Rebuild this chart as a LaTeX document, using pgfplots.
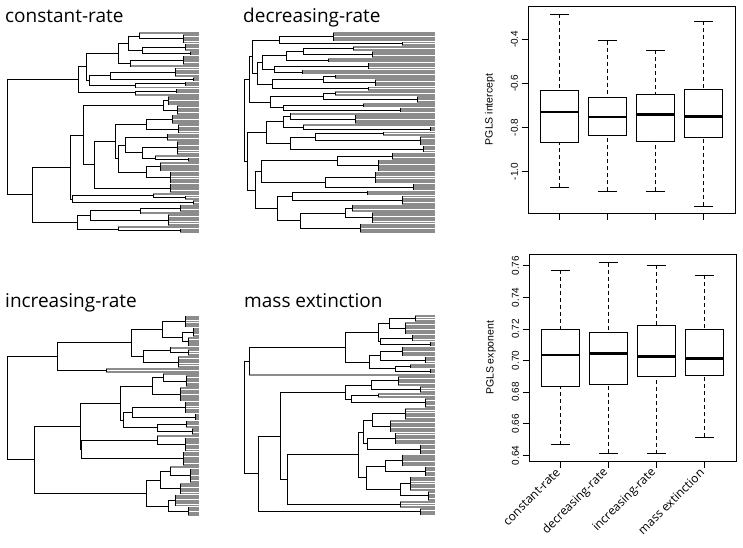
\documentclass[border=0pt]{standalone}
\usepackage{fontspec}
\setmainfont{Liberation Sans}
\newfontfamily\titlefont{Open Sans}
\usepackage{pgfplots}
\pgfplotsset{compat=1.18}
\usepackage{pgfplotstable}
\usepgfplotslibrary{statistics}

% trees: nodes (x y px lo hi) and tips (i x0); x in image px, y in tip index
\pgfplotstableread[row sep=\\]{
x y px lo hi\\
183 3.5 139 2 5\\ 139 2.25 128 1 3.5\\ 185 7 142 6 8\\ 190 9.5 142 9 10\\
142 8.25 128 7 9.5\\ 128 5.25 118 2.25 8.25\\ 183 12.5 130 11 14\\ 130 13.75 118 12.5 15\\
118 9.5 86 5.25 13.75\\ 175 17.5 110 16 19\\ 193 20.5 110 20 21\\ 110 19 89 17.5 20.5\\
185 22.5 135 22 23\\ 135 23.25 89 22.5 24\\ 89 21.125 86 19 23.25\\ 86 15.3125 78 9.5 21.125\\
176 25.5 135 25 26\\ 135 26.25 78 25.5 27\\ 78 20.78 7 15.3125 26.25\\
168 29.5 163 28 31\\ 177 33.5 163 32 35\\ 163 31.5 83 29.5 33.5\\
172 37.5 146 36 39\\ 178 41.5 146 40 43\\ 146 39.5 115 37.5 41.5\\
167 45 125 44 46\\ 177 49.5 142 47 52\\ 188 54.5 155 54 55\\ 155 53.75 142 53 54.5\\
142 51.625 125 49.5 53.75\\ 125 48.3125 118 45 51.625\\ 160 57.5 146 56 59\\ 170 62 146 60 64\\
146 59.75 118 57.5 62\\ 118 54.03 115 48.3125 59.75\\ 115 46.77 94 39.5 54.03\\
170 66.5 94 65 68\\ 94 56.63 83 46.77 66.5\\ 83 44.07 70 31.5 56.63\\
185 70.5 153 70 71\\ 153 69.75 72 69 70.5\\ 193 72.5 72 72 73\\ 72 71.125 70 69.75 72.5\\
70 57.6 32 44.07 71.125\\ 180 75 140 74 76\\ 140 76 90 75 77\\ 168 80 90 78 82\\
90 78 77 76 80\\ 180 84.5 118 84 85\\ 118 83.75 77 83 84.5\\ 77 80.875 32 78 83.75\\
32 69.24 7 57.6 80.875\\ 7 45 7 20.78 69.24\\
}\nodesA
\pgfplotstableread[row sep=\\]{
i x0\\
1 139\\ 2 183\\ 3 183\\ 4 183\\ 5 183\\ 6 185\\ 7 185\\ 8 185\\ 9 190\\ 10 190\\
11 183\\ 12 183\\ 13 183\\ 14 183\\ 15 130\\ 16 175\\ 17 175\\ 18 175\\ 19 175\\ 20 193\\
21 193\\ 22 185\\ 23 185\\ 24 135\\ 25 176\\ 26 176\\ 27 135\\ 28 168\\ 29 168\\ 30 168\\
31 168\\ 32 177\\ 33 177\\ 34 177\\ 35 177\\ 36 172\\ 37 172\\ 38 172\\ 39 172\\ 40 178\\
41 178\\ 42 178\\ 43 178\\ 44 167\\ 45 167\\ 46 167\\ 47 177\\ 48 177\\ 49 177\\ 50 177\\
51 177\\ 52 177\\ 53 155\\ 54 188\\ 55 188\\ 56 160\\ 57 160\\ 58 160\\ 59 160\\ 60 170\\
61 170\\ 62 170\\ 63 170\\ 64 170\\ 65 170\\ 66 170\\ 67 170\\ 68 170\\ 69 153\\ 70 185\\
71 185\\ 72 193\\ 73 193\\ 74 180\\ 75 180\\ 76 180\\ 77 140\\ 78 168\\ 79 168\\ 80 168\\
81 168\\ 82 168\\ 83 118\\ 84 180\\ 85 180\\
}\tipsA

\pgfplotstableread[row sep=\\]{
x y px lo hi\\
333 2.5 279 1 4\\ 402 5.5 279 5 6\\ 279 4 252 2.5 5.5\\ 353 7.5 303 7 8\\ 372 10 303 9 11\\
303 8.75 286 7.5 10\\ 328 12.5 286 12 13\\ 286 10.625 262 8.75 12.5\\ 368 15 274 14 16\\
302 17.5 274 17 18\\ 274 16.25 262 15 17.5\\ 262 13.4375 257 10.625 16.25\\
335 19.5 323 19 20\\ 375 22 323 21 23\\ 323 20.75 272 19.5 22\\ 368 24.5 272 24 25\\
272 22.625 257 20.75 24.5\\ 257 18.03 252 13.4375 22.625\\ 252 11.016 249 4 18.03\\
335 26.5 323 26 27\\ 417 29 323 28 30\\ 323 27.75 270 26.5 29\\ 363 31.5 283 31 32\\
400 33.5 283 33 34\\ 283 32.5 270 31.5 33.5\\ 270 30.125 249 27.75 32.5\\
249 20.57 244 11.016 30.125\\ 355 37.5 290 36 39\\ 290 36.25 283 35 37.5\\
430 41.5 303 41 42\\ 303 40.75 283 40 41.5\\ 283 38.5 266 36.25 40.75\\
383 43.5 315 43 44\\ 420 46.5 315 45 48\\ 315 45 290 43.5 46.5\\ 423 50 290 49 51\\
290 47.5 266 45 50\\ 266 43 247 38.5 47.5\\ 392 53 337 52 54\\ 378 57 337 55 59\\
337 55 261 53 57\\ 375 62 325 60 64\\ 413 66 325 65 67\\ 325 64 261 62 66\\
261 59.5 255 55 64\\ 367 68.5 292 68 69\\ 402 71.5 292 70 73\\ 292 70 277 68.5 71.5\\
352 75 345 74 76\\ 372 79 345 77 81\\ 345 77 300 75 79\\ 360 83.5 300 82 85\\
300 80.25 277 77 83.5\\ 277 75.125 255 70 80.25\\ 255 67.31 247 59.5 75.125\\
247 55.16 244 43 67.31\\ 244 37.87 244 20.57 55.16\\
}\nodesB
\pgfplotstableread[row sep=\\]{
i x0\\
1 333\\ 2 333\\ 3 333\\ 4 333\\ 5 402\\ 6 402\\ 7 353\\ 8 353\\ 9 372\\ 10 372\\
11 372\\ 12 328\\ 13 328\\ 14 368\\ 15 368\\ 16 368\\ 17 302\\ 18 302\\ 19 335\\ 20 335\\
21 375\\ 22 375\\ 23 375\\ 24 368\\ 25 368\\ 26 335\\ 27 335\\ 28 417\\ 29 417\\ 30 417\\
31 363\\ 32 363\\ 33 400\\ 34 400\\ 35 290\\ 36 355\\ 37 355\\ 38 355\\ 39 355\\ 40 303\\
41 430\\ 42 430\\ 43 383\\ 44 383\\ 45 420\\ 46 420\\ 47 420\\ 48 420\\ 49 423\\ 50 423\\
51 423\\ 52 392\\ 53 392\\ 54 392\\ 55 378\\ 56 378\\ 57 378\\ 58 378\\ 59 378\\ 60 375\\
61 375\\ 62 375\\ 63 375\\ 64 375\\ 65 413\\ 66 413\\ 67 413\\ 68 367\\ 69 367\\ 70 402\\
71 402\\ 72 402\\ 73 402\\ 74 352\\ 75 352\\ 76 352\\ 77 372\\ 78 372\\ 79 372\\ 80 372\\
81 372\\ 82 360\\ 83 360\\ 84 360\\ 85 360\\
}\tipsB

\pgfplotstableread[row sep=\\]{
x y px lo hi\\
185 3 162 1 5\\ 193 7.5 182 6 9\\ 188 11.5 182 10 13\\ 182 9.5 162 7.5 11.5\\
162 6.25 131 3 9.5\\ 188 16 170 15 17\\ 170 15 143 14 16\\ 178 20 143 18 22\\
143 17.5 131 15 20\\ 131 11.875 57 6.25 17.5\\ 106 23.5 57 23 24\\ 57 17.6875 7 11.875 23.5\\
186 28 163 26 30\\ 163 26.5 152 25 28\\ 180 33.5 152 31 36\\ 152 30 120 26.5 33.5\\
185 39 132 37 41\\ 195 43 132 42 44\\ 132 41 123 39 43\\ 186 46 157 45 47\\
192 49 157 48 50\\ 157 47.5 123 46 49\\ 123 44.25 120 41 47.5\\ 120 37.125 80 30 44.25\\
185 54.5 157 52 57\\ 157 52.75 81 51 54.5\\ 183 60.5 81 58 63\\ 81 56.625 80 52.75 60.5\\
80 46.875 34 37.125 56.625\\ 190 67.5 170 65 70\\ 170 65.75 160 64 67.5\\ 180 73 160 71 75\\
160 69.375 146 65.75 73\\ 175 78 168 76 80\\ 188 82.5 168 81 84\\ 168 80.25 146 78 82.5\\
146 74.81 34 69.375 80.25\\ 34 60.84 7 46.875 74.81\\ 7 39.26 7 17.6875 60.84\\
}\nodesC
\pgfplotstableread[row sep=\\]{
i x0\\
1 185\\ 2 185\\ 3 185\\ 4 185\\ 5 185\\ 6 193\\ 7 193\\ 8 193\\ 9 193\\ 10 188\\
11 188\\ 12 188\\ 13 188\\ 14 170\\ 15 188\\ 16 188\\ 17 188\\ 18 178\\ 19 178\\ 20 178\\
21 178\\ 22 178\\ 23 106\\ 24 106\\ 25 163\\ 26 186\\ 27 186\\ 28 186\\ 29 186\\ 30 186\\
31 180\\ 32 180\\ 33 180\\ 34 180\\ 35 180\\ 36 180\\ 37 185\\ 38 185\\ 39 185\\ 40 185\\
41 185\\ 42 195\\ 43 195\\ 44 195\\ 45 186\\ 46 186\\ 47 186\\ 48 192\\ 49 192\\ 50 192\\
51 157\\ 52 185\\ 53 185\\ 54 185\\ 55 185\\ 56 185\\ 57 185\\ 58 183\\ 59 183\\ 60 183\\
61 183\\ 62 183\\ 63 183\\ 64 170\\ 65 190\\ 66 190\\ 67 190\\ 68 190\\ 69 190\\ 70 190\\
71 180\\ 72 180\\ 73 180\\ 74 180\\ 75 180\\ 76 175\\ 77 175\\ 78 175\\ 79 175\\ 80 175\\
81 188\\ 82 188\\ 83 188\\ 84 188\\
}\tipsC

\pgfplotstableread[row sep=\\]{
x y px lo hi\\
415 2 389 1 3\\ 405 6 389 4 8\\ 389 4 378 2 6\\ 412 10 380 9 11\\ 430 12.5 380 12 13\\
380 11.25 378 10 12.5\\ 378 7.625 345 4 11.25\\ 402 15.5 380 14 17\\ 425 19 380 18 20\\
380 17.25 369 15.5 19\\ 410 21.5 395 21 22\\ 430 23.5 395 23 24\\ 395 22.5 369 21.5 23.5\\
369 19.875 345 17.25 22.5\\ 345 13.75 249 7.625 19.875\\ 249 19.375 244 13.75 25\\
398 27.5 371 26 29\\ 420 31 371 30 32\\ 371 29.25 345 27.5 31\\ 378 33.5 351 33 34\\
425 36.5 351 35 38\\ 351 35 345 33.5 36.5\\ 345 32.125 280 29.25 35\\
405 41 372 39 43\\ 390 46 372 44 48\\ 372 43.5 363 41 46\\ 395 51 367 49 53\\
420 55.5 367 54 57\\ 367 53.25 363 51 55.5\\ 363 48.375 358 43.5 53.25\\
402 60 385 58 62\\ 425 64.5 385 63 66\\ 385 62.25 366 60 64.5\\ 410 69.5 400 67 72\\
428 74.5 400 73 76\\ 400 72 366 69.5 74.5\\ 366 67.125 358 62.25 72\\
358 57.75 287 48.375 67.125\\ 400 78 287 77 79\\ 287 67.875 280 57.75 78\\
280 50 258 32.125 67.875\\ 420 81 258 80 82\\ 258 65.5 244 50 81\\ 244 42.44 244 19.375 65.5\\
}\nodesD
\pgfplotstableread[row sep=\\]{
i x0\\
1 415\\ 2 415\\ 3 415\\ 4 405\\ 5 405\\ 6 405\\ 7 405\\ 8 405\\ 9 412\\ 10 412\\
11 412\\ 12 430\\ 13 430\\ 14 402\\ 15 402\\ 16 402\\ 17 402\\ 18 425\\ 19 425\\ 20 425\\
21 410\\ 22 410\\ 23 430\\ 24 430\\ 25 249\\ 26 398\\ 27 398\\ 28 398\\ 29 398\\ 30 420\\
31 420\\ 32 420\\ 33 378\\ 34 378\\ 35 425\\ 36 425\\ 37 425\\ 38 425\\ 39 405\\ 40 405\\
41 405\\ 42 405\\ 43 405\\ 44 390\\ 45 390\\ 46 390\\ 47 390\\ 48 390\\ 49 395\\ 50 395\\
51 395\\ 52 395\\ 53 395\\ 54 420\\ 55 420\\ 56 420\\ 57 420\\ 58 402\\ 59 402\\ 60 402\\
61 402\\ 62 402\\ 63 425\\ 64 425\\ 65 425\\ 66 425\\ 67 410\\ 68 410\\ 69 410\\ 70 410\\
71 410\\ 72 410\\ 73 428\\ 74 428\\ 75 428\\ 76 428\\ 77 400\\ 78 400\\ 79 400\\ 80 420\\
81 420\\ 82 420\\
}\tipsD

\pgfplotsset{
  treeax/.style={scale only axis, hide axis, clip=false, anchor=south west,
    width=743pt, xmin=0, xmax=743, y dir=reverse, ymin=1},
  branch/.style={black, line width=0.9pt, line cap=rect},
  tipline/.style={black!45, line width=1.9pt, line cap=butt},
  boxax/.style={scale only axis, anchor=south west, width=207pt,
    xmin=0.34, xmax=4.66, xtick={1,2,3,4}, tick pos=left, tick align=outside,
    major tick length=6.5pt, axis line style={line width=0.8pt},
    tick style={black, line width=0.8pt},
    yticklabel style={rotate=90, anchor=south, font=\fontsize{10}{12}\selectfont},
    every axis y label/.style={at={(axis description cs:0,0.5)}, xshift=-38pt,
      rotate=90, anchor=center, font=\fontsize{10.5}{12}\selectfont},
    boxplot/draw direction=y, boxplot/box extend=0.8, boxplot/whisker extend=0.4,
    boxplot/every box/.style={fill=white},
    boxplot/every median/.style={line width=2.6pt},
    boxplot/draw/lower whisker/.code={%
      \draw[dash pattern=on 4pt off 3pt]
        (boxplot box cs:\pgfplotsboxplotvalue{lower whisker},0.5) --
        (boxplot box cs:\pgfplotsboxplotvalue{lower quartile},0.5);
      \draw (boxplot whisker cs:\pgfplotsboxplotvalue{lower whisker},0) --
        (boxplot whisker cs:\pgfplotsboxplotvalue{lower whisker},1);},
    boxplot/draw/upper whisker/.code={%
      \draw[dash pattern=on 4pt off 3pt]
        (boxplot box cs:\pgfplotsboxplotvalue{upper whisker},0.5) --
        (boxplot box cs:\pgfplotsboxplotvalue{upper quartile},0.5);
      \draw (boxplot whisker cs:\pgfplotsboxplotvalue{upper whisker},0) --
        (boxplot whisker cs:\pgfplotsboxplotvalue{upper whisker},1);},
  },
  bx/.style={black, line width=0.8pt},
}

% tips first (grey), then horizontal and vertical internal branches (black)
\newcommand{\drawtree}[3]{%
  \addplot[tipline, quiver={u=#3-\thisrow{x0}, v=0}] table[x=x0, y=i] {#2};
  \addplot[branch, quiver={u=\thisrow{x}-\thisrow{px}, v=0}] table[x=px, y=y] {#1};
  \addplot[branch, quiver={u=0, v=\thisrow{hi}-\thisrow{lo}}] table[x=x, y=lo] {#1};
}

\begin{document}
\begin{tikzpicture}[x=1pt, y=1pt]
\path[use as bounding box] (0,0) rectangle (743,547);

% titles
\begin{scope}[every node/.style={anchor=base west, inner sep=0pt,
    font=\titlefont\fontsize{19}{21}\selectfont}]
\node at (5,524) {constant-rate};
\node at (243,524) {decreasing-rate};
\node at (5,239.5) {increasing-rate};
\node at (244,239.5) {mass extinction};
\end{scope}

% trees
\begin{axis}[treeax, at={(0pt,315pt)}, height=199pt, ymax=85]
\drawtree{\nodesA}{\tipsA}{199}
\end{axis}
\begin{axis}[treeax, at={(0pt,315pt)}, height=199pt, ymax=85]
\drawtree{\nodesB}{\tipsB}{435}
\end{axis}
\begin{axis}[treeax, at={(0pt,32pt)}, height=198.3pt, ymax=84]
\drawtree{\nodesC}{\tipsC}{199}
\end{axis}
\begin{axis}[treeax, at={(0pt,32.7pt)}, height=198.3pt, ymax=82]
\drawtree{\nodesD}{\tipsD}{435}
\end{axis}

% PGLS intercept
\begin{axis}[boxax, at={(528pt,334pt)}, height=207pt,
  ymin=-1.188, ymax=-0.249, ytick={-1,-0.8,-0.6,-0.4},
  yticklabels={-1.0,-0.8,-0.6,-0.4}, xticklabels={},
  ylabel={PGLS intercept}]
\addplot[bx, boxplot prepared={draw position=1, lower whisker=-1.071,
  lower quartile=-0.870, median=-0.729, upper quartile=-0.630, upper whisker=-0.285}] coordinates {};
\addplot[bx, boxplot prepared={draw position=2, lower whisker=-1.090,
  lower quartile=-0.836, median=-0.752, upper quartile=-0.662, upper whisker=-0.406}] coordinates {};
\addplot[bx, boxplot prepared={draw position=3, lower whisker=-1.090,
  lower quartile=-0.862, median=-0.741, upper quartile=-0.652, upper whisker=-0.449}] coordinates {};
\addplot[bx, boxplot prepared={draw position=4, lower whisker=-1.157,
  lower quartile=-0.844, median=-0.750, upper quartile=-0.629, upper whisker=-0.318}] coordinates {};
\end{axis}

% PGLS exponent
\begin{axis}[boxax, at={(529pt,85.3pt)}, height=207.7pt,
  ymin=0.636, ymax=0.7674, ytick={0.64,0.66,0.68,0.70,0.72,0.74,0.76},
  yticklabels={0.64,0.66,0.68,0.70,0.72,0.74,0.76},
  xticklabels={constant-rate, decreasing-rate, increasing-rate, mass extinction},
  xticklabel style={rotate=45, anchor=east, font=\titlefont\fontsize{12}{14}\selectfont},
  ylabel={PGLS exponent}]
\addplot[bx, boxplot prepared={draw position=1, lower whisker=0.6467,
  lower quartile=0.6839, median=0.7035, upper quartile=0.7197, upper whisker=0.7573}] coordinates {};
\addplot[bx, boxplot prepared={draw position=2, lower whisker=0.6413,
  lower quartile=0.6847, median=0.7043, upper quartile=0.7176, upper whisker=0.7619}] coordinates {};
\addplot[bx, boxplot prepared={draw position=3, lower whisker=0.6411,
  lower quartile=0.6900, median=0.7024, upper quartile=0.7225, upper whisker=0.7602}] coordinates {};
\addplot[bx, boxplot prepared={draw position=4, lower whisker=0.6516,
  lower quartile=0.6908, median=0.7014, upper quartile=0.7197, upper whisker=0.7541}] coordinates {};
\end{axis}
\end{tikzpicture}
\end{document}
